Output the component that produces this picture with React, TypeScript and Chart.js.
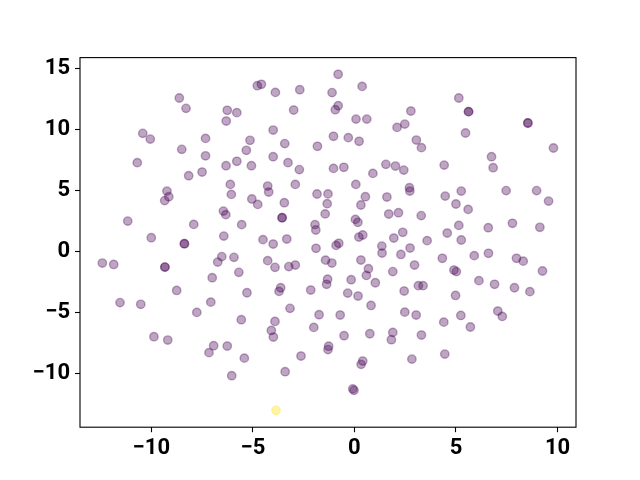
import React, { useEffect, useRef } from "react";
import { Chart, registerables } from "chart.js";

Chart.register(...registerables);

// Class 0 (purple) points; duplicates appear darker in the reference
const purpleX = [
  -8.62, -8.29, -10.42, -10.05, -8.5, -7.33, -7.33, -10.69, -8.16, -7.5,
  -4.78, -4.58, -3.89, -2.69, -6.26, -5.79, -6.31, -2.99, -4.0, -5.14,
  -3.43, -1.82, -5.32, -4.0, -5.79, -6.32, -5.07, -3.27, -2.71,
  -0.8, 0.38, -1.1, -0.8, -0.94, 2.78, 0.08, 0.61, 2.48, 2.1,
  -1.03, -0.3, 0.23, 3.05, 3.3, -1.03, -0.52, 0.91, 1.55, 2.02, 2.43, 4.42,
  5.14, 5.62, 5.62, 8.54, 8.54, 5.47, 9.8, 6.75, 6.83,
  -9.23, -9.14, -9.34, -11.16, -7.91, -10.0, -8.37, -8.37, -12.41, -11.85,
  -9.33, -9.33, -8.75, -11.54, -10.52,
  -6.11, -4.27, -4.22, -2.91, -6.06, -5.05, -4.76, -3.45, -1.84, -1.3,
  -1.34, -6.45, -6.33, -3.56, -3.56, -5.55, -1.94, -1.9, -1.44, -6.43,
  -4.5, -4.0, -3.33, -1.89, -6.53, -6.73, -5.93, -4.27, -3.91, -3.23,
  -2.91, -1.42, -1.32, -1.37, -5.69, -7.0, -5.29, -3.63, -3.71, -2.15,
  -7.07, -3.17,
  0.07, 0.54, 0.32, 1.6, 2.71, 2.73, 4.47, 0.05, 0.17, 1.69,
  2.17, 3.29, 0.22, 0.41, -0.9, -0.77, 1.94, 2.38, 3.58, 4.57,
  1.35, 1.36, 2.29, 2.74, 4.33, -1.11, 0.32, 0.69, 0.59, 1.89,
  2.96, 4.9, 5.02, -0.16, 1.03, -0.33, 0.18, 2.45, 3.15, 3.38, 0.82,
  5.26, 7.47, 8.97, 9.56, 5.0, 5.6, 5.14, 6.59, 7.78, 9.13,
  5.26, 5.9, 6.6, 7.98, 8.31, 9.26, 6.13, 6.9, 7.88, 8.64, 4.98,
  -7.76, -9.87, -9.19,
  -5.57, -3.91, -1.74, -4.09, -3.99, -2.0, -6.93, -7.16, -6.26, -5.42,
  -2.63, -1.27, -1.3, -6.04, -3.41,
  -0.7, 2.48, 3.04, 4.4, -0.51, 0.76, 1.89, 1.82, 3.3, 4.45,
  2.83, 0.41, 0.33, -0.08, -0.02,
  5.24, 5.71, 7.06, 7.28,
];
const purpleY = [
  12.57, 11.72, 9.67, 9.2, 8.36, 9.26, 7.83, 7.27, 6.2, 6.5,
  13.58, 13.69, 13.03, 13.25, 11.56, 11.37, 10.68, 11.58, 9.94, 9.1,
  8.83, 8.61, 8.28, 7.76, 7.38, 7.02, 7.02, 7.27, 6.7,
  14.51, 13.52, 13.01, 11.94, 11.61, 11.5, 10.84, 10.84, 10.43, 10.16,
  9.43, 9.32, 9.02, 9.12, 8.5, 6.8, 6.89, 6.39, 7.13, 6.99, 6.66, 7.07,
  12.57, 11.45, 11.45, 10.52, 10.52, 9.7, 8.47, 7.76, 6.86,
  4.94, 4.48, 4.16, 2.48, 2.21, 1.12, 0.63, 0.63, -0.96, -1.07,
  -1.29, -1.29, -3.2, -4.2, -4.34,
  5.49, 5.35, 4.86, 5.49, 4.67, 4.29, 3.85, 3.99, 4.7, 4.71,
  3.91, 3.3, 3.01, 2.76, 2.76, 2.19, 2.19, 1.75, 3.07, 1.25,
  0.96, 0.6, 1.01, 0.25, -0.43, -0.88, -0.49, -0.76, -1.31, -1.25,
  -1.12, -0.72, -2.28, -2.7, -1.72, -2.16, -3.39, -2.98, -3.28, -3.17,
  -4.16, -4.67,
  5.49, 4.48, 3.8, 4.45, 5.22, 4.94, 4.53, 2.62, 2.38, 3.06,
  3.17, 2.93, 1.17, 1.34, 0.49, 0.66, 1.09, 1.56, 0.88, 1.5,
  0.43, -0.14, -0.25, 0.27, -0.57, -0.96, -0.71, -1.42, -1.97, -1.66,
  -1.12, -1.53, -1.66, -2.32, -2.57, -3.42, -3.66, -3.25, -2.81, -2.81, -4.43,
  4.94, 4.98, 4.98, 4.12, 3.88, 3.44, 2.13, 1.94, 2.3, 1.97,
  0.93, -0.35, -0.16, -0.57, -0.8, -1.61, -2.4, -2.7, -2.98, -3.3, -3.61,
  -5.0, -6.99, -7.27,
  -5.6, -5.74, -5.19, -6.48, -7.02, -6.23, -7.73, -8.3, -7.76, -8.75,
  -8.58, -7.77, -8.05, -10.19, -9.86,
  -5.22, -4.98, -5.22, -5.8, -6.91, -6.75, -6.64, -7.24, -6.86, -8.42,
  -8.83, -8.99, -9.26, -11.27, -11.39,
  -5.25, -6.2, -4.89, -5.33,
];

// Class 1 (yellow) point
const yellowX = [-3.86];
const yellowY = [-13.03];

const xTicks = [-10, -5, 0, 5, 10];
const yTicks = [-10, -5, 0, 5, 10, 15];
const xLimits = [-13.51, 10.91];
const yLimits = [-14.41, 15.88];

const fmt = (v: number | string) => {
  const n = Number(v);
  return n < 0 ? "\u2212" + Math.abs(n) : String(n);
};

const framePlugin = {
  id: "frame",
  afterDraw(chart: any) {
    const { ctx, chartArea: a } = chart;
    ctx.save();
    ctx.strokeStyle = "#000";
    ctx.lineWidth = 1.1;
    ctx.strokeRect(a.left, a.top, a.right - a.left, a.bottom - a.top);
    ctx.restore();
  },
};

export default function App() {
  const ref = useRef<HTMLCanvasElement>(null);

  useEffect(() => {
    if (!ref.current) return;
    const tickFont = { family: "Roboto", size: 22, weight: "bold" as const };
    const grid = {
      display: true,
      drawOnChartArea: false,
      drawTicks: true,
      tickLength: 5,
      tickColor: "#000",
      tickWidth: 1.1,
    };
    const chart = new Chart(ref.current, {
      type: "scatter",
      data: {
        datasets: [
          {
            data: purpleX.map((x, i) => ({ x, y: purpleY[i] })),
            backgroundColor: "rgba(68,1,84,0.35)",
            borderColor: "rgba(68,1,84,0.35)",
            borderWidth: 1.4,
            pointRadius: 4.2,
          },
          {
            data: yellowX.map((x, i) => ({ x, y: yellowY[i] })),
            backgroundColor: "rgba(253,231,37,0.4)",
            borderColor: "rgba(253,231,37,0.4)",
            borderWidth: 1.4,
            pointRadius: 4.2,
          },
        ],
      },
      options: {
        animation: false,
        responsive: false,
        events: [],
        layout: { padding: { left: 0, top: 57.6, right: 64, bottom: 0 } },
        plugins: { legend: { display: false }, tooltip: { enabled: false } },
        scales: {
          x: {
            type: "linear",
            min: xLimits[0],
            max: xLimits[1],
            afterBuildTicks: (s: any) => {
              s.ticks = xTicks.map((v) => ({ value: v }));
            },
            afterFit: (s: any) => {
              s.height = 52.8;
            },
            grid,
            border: { display: false },
            ticks: {
              color: "#000",
              font: tickFont,
              padding: 3,
              maxRotation: 0,
              autoSkip: false,
              callback: fmt,
            },
          },
          y: {
            type: "linear",
            min: yLimits[0],
            max: yLimits[1],
            afterBuildTicks: (s: any) => {
              s.ticks = yTicks.map((v) => ({ value: v }));
            },
            afterFit: (s: any) => {
              s.width = 80;
            },
            grid,
            border: { display: false },
            ticks: {
              color: "#000",
              font: tickFont,
              padding: 5,
              autoSkip: false,
              callback: fmt,
            },
          },
        },
      },
      plugins: [framePlugin],
    });
    return () => chart.destroy();
  }, []);

  return (
    <div style={{ position: "fixed", left: 0, top: 0, width: 640, height: 480, background: "#fff" }}>
      <canvas ref={ref} width={640} height={480} style={{ width: 640, height: 480 }} />
    </div>
  );
}
